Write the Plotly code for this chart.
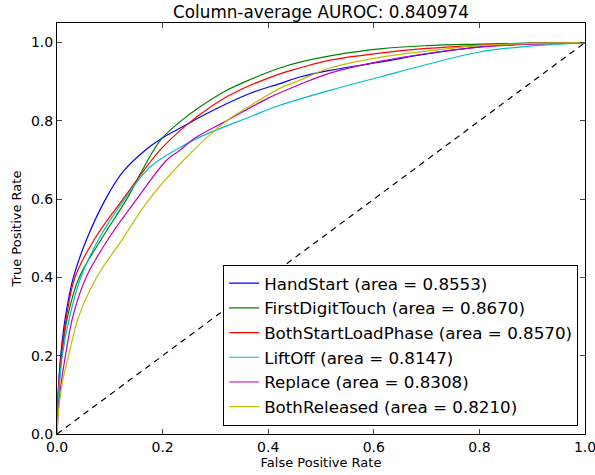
import plotly.graph_objects as go

title_text = "Column-average AUROC: 0.840974"
names = ["HandStart", "FirstDigitTouch", "BothStartLoadPhase", "LiftOff", "Replace", "BothReleased"]
areas = [0.8553, 0.8670, 0.8570, 0.8147, 0.8308, 0.8210]
colors = ["#0000ff", "#008000", "#ff0000", "#00bfbf", "#bf00bf", "#bfbf00"]

hand_fpr = [0, 0.002, 0.007, 0.016, 0.031, 0.057, 0.092, 0.125, 0.167, 0.198, 0.245, 0.271, 0.365, 0.422, 0.46, 0.517, 0.611, 0.706, 0.80, 0.90, 1.0]
hand_tpr = [0, 0.10, 0.20, 0.30, 0.40, 0.50, 0.60, 0.67, 0.725, 0.755, 0.79, 0.81, 0.87, 0.895, 0.912, 0.929, 0.950, 0.972, 0.989, 0.997, 1.0]

first_fpr = [0, 0.003, 0.009, 0.020, 0.042, 0.085, 0.132, 0.158, 0.183, 0.200, 0.235, 0.271, 0.32, 0.365, 0.422, 0.46, 0.517, 0.611, 0.70, 0.80, 0.90, 1.0]
first_tpr = [0, 0.10, 0.20, 0.30, 0.40, 0.50, 0.60, 0.665, 0.725, 0.757, 0.80, 0.836, 0.877, 0.905, 0.935, 0.950, 0.966, 0.984, 0.992, 0.996, 0.999, 1.0]

both_start_fpr = [0, 0.002, 0.008, 0.018, 0.034, 0.072, 0.125, 0.195, 0.245, 0.29, 0.333, 0.422, 0.46, 0.517, 0.611, 0.70, 0.80, 0.90, 1.0]
both_start_tpr = [0, 0.10, 0.20, 0.30, 0.40, 0.50, 0.60, 0.725, 0.789, 0.835, 0.870, 0.920, 0.935, 0.955, 0.973, 0.985, 0.993, 0.998, 1.0]

lift_fpr = [0, 0.003, 0.010, 0.024, 0.045, 0.080, 0.128, 0.176, 0.233, 0.271, 0.365, 0.422, 0.517, 0.611, 0.706, 0.80, 0.895, 1.0]
lift_tpr = [0, 0.10, 0.20, 0.30, 0.40, 0.50, 0.60, 0.682, 0.732, 0.759, 0.81, 0.84, 0.878, 0.912, 0.946, 0.976, 0.991, 1.0]

replace_fpr = [0, 0.005, 0.016, 0.030, 0.055, 0.098, 0.151, 0.208, 0.233, 0.26, 0.321, 0.40, 0.46, 0.517, 0.611, 0.70, 0.80, 0.90, 1.0]
replace_tpr = [0, 0.10, 0.20, 0.30, 0.40, 0.50, 0.60, 0.70, 0.725, 0.755, 0.80, 0.858, 0.893, 0.922, 0.952, 0.972, 0.988, 0.996, 1.0]

released_fpr = [0, 0.003, 0.010, 0.022, 0.041, 0.075, 0.125, 0.175, 0.240, 0.321, 0.365, 0.422, 0.46, 0.517, 0.611, 0.70, 0.80, 0.90, 1.0]
released_tpr = [0, 0.06, 0.13, 0.20, 0.30, 0.40, 0.50, 0.60, 0.70, 0.80, 0.838, 0.883, 0.904, 0.935, 0.962, 0.978, 0.992, 0.998, 1.0]

chance_x = [0, 1]
chance_y = [0, 1]

x_ticks = [0.0, 0.2, 0.4, 0.6, 0.8, 1.0]
y_ticks = [0.0, 0.2, 0.4, 0.6, 0.8, 1.0]

fprs = [hand_fpr, first_fpr, both_start_fpr, lift_fpr, replace_fpr, released_fpr]
tprs = [hand_tpr, first_tpr, both_start_tpr, lift_tpr, replace_tpr, released_tpr]

fig = go.Figure()
for n, a, c, fx, ty in zip(names, areas, colors, fprs, tprs):
    fig.add_trace(go.Scatter(
        x=fx, y=ty, mode="lines", name=f"{n} (area = {a:.4f})",
        line=dict(color=c, width=1.2, shape="spline", smoothing=1.0),
    ))
fig.add_trace(go.Scatter(
    x=chance_x, y=chance_y, mode="lines", showlegend=False,
    line=dict(color="black", width=1.2, dash="6px,5px"),
))

axis_common = dict(
    showgrid=False, zeroline=False, showline=True, linecolor="black", linewidth=1,
    mirror="allticks", ticks="inside", ticklen=5, tickcolor="#444", tickwidth=1,
    tickfont=dict(size=14, color="black"), tickformat=".1f",
    ticklabeloverflow="allow", automargin=False,
)

fig.update_layout(
    width=595, height=475,
    margin=dict(l=57, r=10, t=23, b=41),
    paper_bgcolor="white", plot_bgcolor="white",
    font=dict(family="DejaVu Sans", color="black"),
    title=dict(text=title_text, x=0.5, xref="paper", y=1 - 12 / 475, yref="container",
               xanchor="center", yanchor="middle", font=dict(size=16.8, color="black")),
    xaxis=dict(range=[0, 1], tickvals=x_ticks, title=dict(text="False Positive Rate", font=dict(size=13), standoff=2), **axis_common),
    yaxis=dict(range=[0, 1.05], tickvals=y_ticks, title=dict(text="True Positive Rate", font=dict(size=13), standoff=6), **axis_common),
    legend=dict(x=0.987, y=0.02, xanchor="right", yanchor="bottom",
                bordercolor="black", borderwidth=1, bgcolor="white", itemwidth=30,
                font=dict(size=16.7, color="black"), tracegroupgap=0),
)

fig.write_html("out.html")
